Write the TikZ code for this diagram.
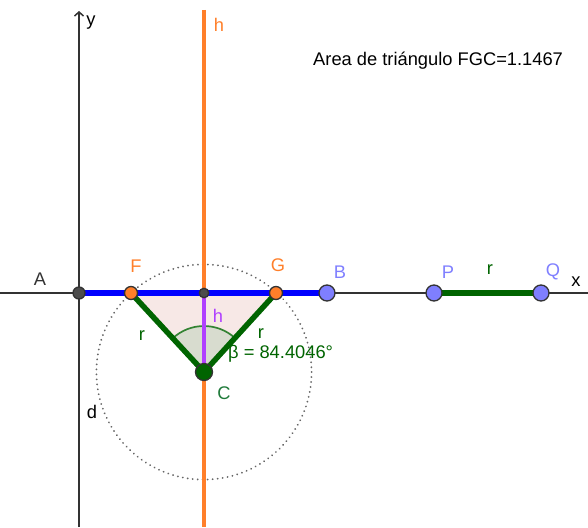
\documentclass[tikz,border=0pt]{standalone}
\usepackage{fontspec}
\setmainfont{Liberation Sans}
\usetikzlibrary{arrows.meta,calc}
\definecolor{orng}{HTML}{FF7F2A}
\definecolor{blu}{HTML}{0000FF}
\definecolor{vio}{HTML}{7F7FFF}
\definecolor{grn}{HTML}{006400}
\definecolor{grnt}{HTML}{1F7A3A}
\definecolor{purp}{HTML}{B040FF}
\definecolor{pnk}{HTML}{F7E8E6}
\definecolor{sect}{HTML}{D8DCCF}
\definecolor{axc}{HTML}{333333}
\tikzset{
  x=1pt,y=-1pt,
  lbl/.style={font=\fontsize{18.3}{20}\selectfont,inner sep=0pt},
  ptd/.style={circle,draw=black!80,line width=1.3pt,inner sep=0pt,minimum size=#1},
  ptd/.default=12pt
}
\begin{document}
\begin{tikzpicture}
\useasboundingbox (0,0) rectangle (588,527);
% axes
\draw[axc,line width=1.5pt] (0,293) -- (588,293);
\draw[axc,line width=1.5pt,-{Straight Barb[length=4pt,width=9pt,line width=1.5pt]}] (79,527) -- (79,11);
% coordinates
\coordinate (Ac) at (79,293);
\coordinate (Fc) at (131,293);
\coordinate (Mc) at (204,293);
\coordinate (Gc) at (276,293);
\coordinate (Bc) at (327,293);
\coordinate (Pc) at (434,293);
\coordinate (Qc) at (541,293);
\coordinate (Cc) at (204,372);
% triangle fill
\fill[pnk] (Fc) -- (Gc) -- (Cc) -- cycle;
% sector
\fill[sect] (Cc) -- ($(Cc)!46pt!(Fc)$) arc[start angle=227.3,end angle=312.3,radius=46] -- cycle;
\draw[grn!80!white,line width=1.7pt] ($(Cc)!46pt!(Fc)$) arc[start angle=227.3,end angle=312.3,radius=46];
% circle
\draw[black!60,line width=2pt,dash pattern=on 0.01pt off 5pt,line cap=round] (Cc) circle[radius=107.6];
% h line
\draw[orng,line width=3.2pt] (204,10) -- (204,527);
% blue segment
\draw[blu,line width=5.5pt] (Ac) -- (Bc);
% purple
\draw[purp,line width=4pt] (Mc) -- (Cc);
% green
\draw[grn,line width=5.5pt,line join=round] (Fc) -- (Cc) -- (Gc);
\draw[grn,line width=5.5pt] (Pc) -- (Qc);
% points
\node[ptd=12pt,fill=black!70] (A) at (Ac) {};
\node[ptd=9.5pt,fill=black!70] (M) at (Mc) {};
\node[ptd=13pt,fill=orng] (F) at (Fc) {};
\node[ptd=13pt,fill=orng] (G) at (Gc) {};
\node[ptd=16pt,fill=vio] (B) at (Bc) {};
\node[ptd=16pt,fill=vio] (P) at (Pc) {};
\node[ptd=16pt,fill=vio] (Q) at (Qc) {};
\node[ptd=17pt,fill=grn] (C) at (Cc) {};
% labels
\node[lbl,text=axc] (lA) at (40,279) {A};
\node[lbl,text=orng] (lF) at (136,266) {F};
\node[lbl,text=orng] (lG) at (278,265) {G};
\node[lbl,text=vio] (lB) at (340,272) {B};
\node[lbl,text=vio] (lP) at (448,272) {P};
\node[lbl,text=grn] (lr3) at (490,270) {r};
\node[lbl,text=vio] (lQ) at (553,272) {Q};
\node[lbl,text=black] (lx) at (576,282) {x};
\node[lbl,text=black] (ly) at (91,23) {y};
\node[lbl,text=orng] (lh) at (219,25) {h};
\node[lbl,text=purp] (lh2) at (218,316) {h};
\node[lbl,text=grn] (lr1) at (142,336) {r};
\node[lbl,text=grn] (lr2) at (261,334) {r};
\node[lbl,text=grn,anchor=west] (lb) at (228,354) {β = 84.4046°};
\node[lbl,text=grnt] (lC) at (224,393) {C};
\node[lbl,text=black] (ld) at (92,412) {d};
\node[lbl,text=black,anchor=base west] (title) at (313,66) {Area de triángulo FGC=1.1467};
\end{tikzpicture}
\end{document}
